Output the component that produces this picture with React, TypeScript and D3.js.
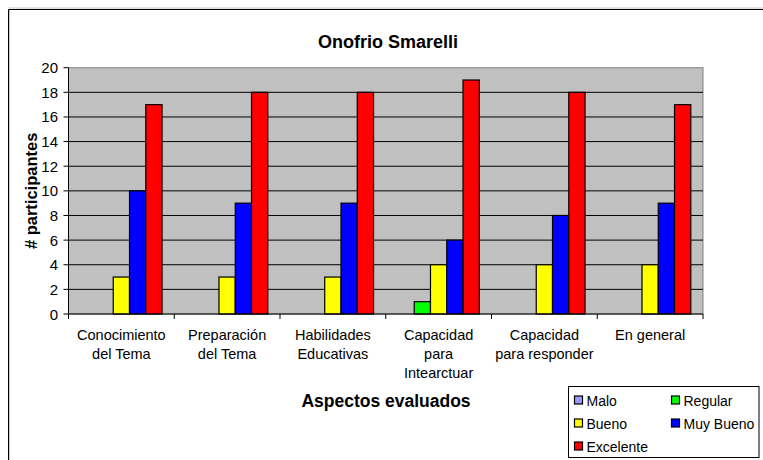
import React from "react";
import * as d3 from "d3";

const categories: string[][] = [
  ["Conocimiento", "del Tema"],
  ["Preparación", "del Tema"],
  ["Habilidades", "Educativas"],
  ["Capacidad", "para", "Intearctuar"],
  ["Capacidad", "para responder"],
  ["En general"],
];
const seriesNames = ["Malo", "Regular", "Bueno", "Muy Bueno", "Excelente"];
const seriesColors = ["#9999FF", "#00FF00", "#FFFF00", "#0000FF", "#FF0000"];
const malo = [0, 0, 0, 0, 0, 0];
const regular = [0, 0, 0, 1, 0, 0];
const bueno = [3, 3, 3, 4, 4, 4];
const muyBueno = [10, 9, 9, 6, 8, 9];
const excelente = [17, 18, 18, 19, 18, 17];
const yTicks = [0, 2, 4, 6, 8, 10, 12, 14, 16, 18, 20];

const allSeries = [malo, regular, bueno, muyBueno, excelente];

export default function App() {
  const W = 763, H = 460;
  const left = 68.5, right = 703, top = 67.7, bottom = 314;
  const font = "'Liberation Sans', Arial, sans-serif";
  const x0 = d3.scaleBand<number>().domain(d3.range(categories.length)).range([left, right]).paddingInner(0).paddingOuter(0);
  const bw = x0.bandwidth() / 6.5;
  const y = d3.scaleLinear().domain([0, 20]).range([bottom, top]);

  const legendRows = [
    [0, 1],
    [2, 3],
    [4],
  ];

  return (
    <svg width={W} height={H} style={{ position: "absolute", left: 0, top: 0, background: "#fff" }} fontFamily={font}>
      {/* chart border */}
      <line x1={8.5} y1={8} x2={W} y2={8} stroke="#c8c8c8" />
      <line x1={8.5} y1={9.5} x2={W} y2={9.5} stroke="#000" />
      <line x1={8.5} y1={9.5} x2={8.5} y2={H} stroke="#000" />
      <line x1={9.5} y1={10} x2={9.5} y2={H} stroke="#c8c8c8" />

      <text x={388} y={48} textAnchor="middle" fontSize={18} fontWeight="bold">Onofrio Smarelli</text>

      {/* plot area */}
      <rect x={left} y={top} width={right - left} height={bottom - top} fill="#C0C0C0" stroke="#808080" strokeWidth={1} />
      {yTicks.filter(t => t > 0 && t < 20).map(t => (
        <line key={t} x1={left} x2={right} y1={y(t)} y2={y(t)} stroke="#000" strokeWidth={1} />
      ))}

      {/* bars */}
      {allSeries.map((s, si) =>
        s.map((v, ci) =>
          v > 0 ? (
            <rect
              key={`${si}-${ci}`}
              x={(x0(ci) as number) + 0.75 * bw + si * bw}
              y={y(v)}
              width={bw}
              height={y(0) - y(v)}
              fill={seriesColors[si]}
              stroke="#000"
              strokeWidth={1.2}
            />
          ) : null
        )
      )}

      {/* axes */}
      <line x1={left} x2={left} y1={top} y2={bottom} stroke="#000" />
      <line x1={left} x2={right} y1={bottom} y2={bottom} stroke="#000" />
      {yTicks.map(t => (
        <g key={t}>
          <line x1={left - 5} x2={left} y1={y(t)} y2={y(t)} stroke="#000" />
          <text x={left - 10.5} y={y(t) + 5.5} textAnchor="end" fontSize={15}>{t}</text>
        </g>
      ))}
      {d3.range(categories.length + 1).map(i => {
        const xx = left + i * x0.bandwidth();
        return <line key={i} x1={xx} x2={xx} y1={bottom} y2={bottom + 5} stroke="#000" />;
      })}
      {categories.map((lines, ci) => (
        <text key={ci} textAnchor="middle" fontSize={14.5}>
          {lines.map((l, li) => (
            <tspan key={li} x={(x0(ci) as number) + x0.bandwidth() / 2} y={340 + li * 19}>{l}</tspan>
          ))}
        </text>
      ))}

      <text x={386} y={407} textAnchor="middle" fontSize={17.5} fontWeight="bold">Aspectos evaluados</text>
      <text transform={`translate(37,${(top + bottom) / 2}) rotate(-90)`} textAnchor="middle" fontSize={16.5} fontWeight="bold"># participantes</text>

      {/* legend */}
      <rect x={568.5} y={386.5} width={190.5} height={71} fill="#fff" stroke="#000" />
      {legendRows.map((row, ri) =>
        row.map((si, k) => {
          const lx = k === 0 ? 574.5 : 671.5;
          const ly = 396 + ri * 23;
          return (
            <g key={si}>
              <rect x={lx} y={ly} width={8} height={8} fill={seriesColors[si]} stroke="#000" strokeWidth={1.2} />
              <text x={lx + 12} y={ly + 9.5} fontSize={14}>{seriesNames[si]}</text>
            </g>
          );
        })
      )}
    </svg>
  );
}
